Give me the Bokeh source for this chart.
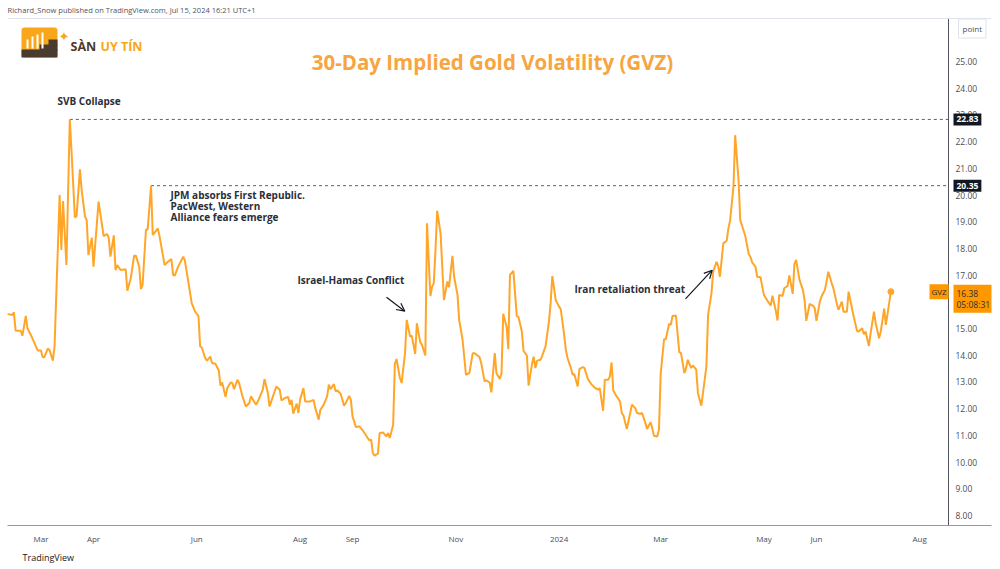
import pandas as pd
from bokeh.plotting import figure
from bokeh.models import (Range1d, FixedTicker, Label, Arrow, OpenHead, BoxAnnotation,
                          ColumnDataSource, Span, Title)
from bokeh.embed import file_html
from bokeh.resources import INLINE

# ---------------- data ----------------
dates = [
    "2023-02-09", "2023-02-12", "2023-02-13", "2023-02-14", "2023-02-17", "2023-02-18", "2023-02-20",
    "2023-02-21", "2023-02-23", "2023-02-26", "2023-02-27", "2023-03-01", "2023-03-02", "2023-03-03",
    "2023-03-05", "2023-03-06", "2023-03-08", "2023-03-09", "2023-03-12", "2023-03-13", "2023-03-14",
    "2023-03-16", "2023-03-18", "2023-03-19", "2023-03-21", "2023-03-22", "2023-03-24", "2023-03-25",
    "2023-03-27", "2023-03-28", "2023-03-29", "2023-03-31", "2023-04-01", "2023-04-04", "2023-04-07",
    "2023-04-09", "2023-04-10", "2023-04-11", "2023-04-13", "2023-04-14", "2023-04-15", "2023-04-17",
    "2023-04-20", "2023-04-21", "2023-04-23", "2023-04-25", "2023-04-26", "2023-04-28", "2023-04-29",
    "2023-04-30", "2023-05-02", "2023-05-03", "2023-05-05", "2023-05-06", "2023-05-09", "2023-05-10",
    "2023-05-13", "2023-05-15", "2023-05-17", "2023-05-18", "2023-05-19", "2023-05-21", "2023-05-24",
    "2023-05-25", "2023-05-27", "2023-05-29", "2023-05-31", "2023-06-02", "2023-06-03", "2023-06-04",
    "2023-06-06", "2023-06-07", "2023-06-09", "2023-06-10", "2023-06-12", "2023-06-14", "2023-06-15",
    "2023-06-16", "2023-06-18", "2023-06-19", "2023-06-21", "2023-06-22", "2023-06-23", "2023-06-25",
    "2023-06-26", "2023-06-28", "2023-06-30", "2023-07-02", "2023-07-03", "2023-07-06", "2023-07-08",
    "2023-07-10", "2023-07-11", "2023-07-13", "2023-07-14", "2023-07-16", "2023-07-18", "2023-07-20",
    "2023-07-21", "2023-07-23", "2023-07-25", "2023-07-26", "2023-07-27", "2023-07-28", "2023-07-30",
    "2023-07-31", "2023-08-01", "2023-08-03", "2023-08-04", "2023-08-07", "2023-08-09", "2023-08-10",
    "2023-08-12", "2023-08-13", "2023-08-15", "2023-08-17", "2023-08-18", "2023-08-19", "2023-08-21",
    "2023-08-22", "2023-08-23", "2023-08-25", "2023-08-27", "2023-08-28", "2023-08-30", "2023-08-31",
    "2023-09-01", "2023-09-03", "2023-09-05", "2023-09-07", "2023-09-10", "2023-09-11", "2023-09-12",
    "2023-09-13", "2023-09-14", "2023-09-16", "2023-09-17", "2023-09-19", "2023-09-21", "2023-09-22",
    "2023-09-23", "2023-09-25", "2023-09-26", "2023-09-27", "2023-09-29", "2023-09-30", "2023-10-02",
    "2023-10-03", "2023-10-05", "2023-10-06", "2023-10-08", "2023-10-09", "2023-10-11", "2023-10-12",
    "2023-10-14", "2023-10-15", "2023-10-17", "2023-10-18", "2023-10-19", "2023-10-20", "2023-10-21",
    "2023-10-23", "2023-10-25", "2023-10-27", "2023-10-28", "2023-10-30", "2023-10-31", "2023-11-02",
    "2023-11-03", "2023-11-05", "2023-11-07", "2023-11-09", "2023-11-11", "2023-11-12", "2023-11-14",
    "2023-11-15", "2023-11-16", "2023-11-18", "2023-11-19", "2023-11-21", "2023-11-22", "2023-11-24",
    "2023-11-25", "2023-11-27", "2023-11-28", "2023-11-29", "2023-12-01", "2023-12-02", "2023-12-03",
    "2023-12-05", "2023-12-07", "2023-12-08", "2023-12-10", "2023-12-11", "2023-12-13", "2023-12-14",
    "2023-12-16", "2023-12-17", "2023-12-18", "2023-12-19", "2023-12-21", "2023-12-22", "2023-12-24",
    "2023-12-26", "2023-12-27", "2023-12-28", "2023-12-30", "2024-01-01", "2024-01-02", "2024-01-04",
    "2024-01-05", "2024-01-06", "2024-01-08", "2024-01-09", "2024-01-10", "2024-01-12", "2024-01-13",
    "2024-01-15", "2024-01-16", "2024-01-18", "2024-01-20", "2024-01-22", "2024-01-24", "2024-01-25",
    "2024-01-27", "2024-01-28", "2024-01-30", "2024-01-31", "2024-02-01", "2024-02-02", "2024-02-04",
    "2024-02-06", "2024-02-07", "2024-02-08", "2024-02-10", "2024-02-12", "2024-02-13", "2024-02-15",
    "2024-02-16", "2024-02-18", "2024-02-19", "2024-02-21", "2024-02-22", "2024-02-24", "2024-02-25",
    "2024-02-26", "2024-02-28", "2024-02-29", "2024-03-01", "2024-03-03", "2024-03-04", "2024-03-06",
    "2024-03-07", "2024-03-08", "2024-03-10", "2024-03-12", "2024-03-13", "2024-03-15", "2024-03-16",
    "2024-03-17", "2024-03-19", "2024-03-20", "2024-03-22", "2024-03-23", "2024-03-25", "2024-03-26",
    "2024-03-28", "2024-03-29", "2024-03-31", "2024-04-01", "2024-04-03", "2024-04-04", "2024-04-05",
    "2024-04-07", "2024-04-09", "2024-04-10", "2024-04-11", "2024-04-13", "2024-04-14", "2024-04-16",
    "2024-04-17", "2024-04-19", "2024-04-20", "2024-04-22", "2024-04-23", "2024-04-24", "2024-04-26",
    "2024-04-27", "2024-04-29", "2024-04-30", "2024-05-01", "2024-05-03", "2024-05-05", "2024-05-06",
    "2024-05-08", "2024-05-09", "2024-05-10", "2024-05-12", "2024-05-13", "2024-05-15", "2024-05-16",
    "2024-05-18", "2024-05-19", "2024-05-20", "2024-05-22", "2024-05-24", "2024-05-25", "2024-05-26",
    "2024-05-28", "2024-05-30", "2024-05-31", "2024-06-01", "2024-06-03", "2024-06-04", "2024-06-06",
    "2024-06-07", "2024-06-08", "2024-06-10", "2024-06-11", "2024-06-13", "2024-06-14", "2024-06-16",
    "2024-06-17", "2024-06-19", "2024-06-20", "2024-06-22", "2024-06-23", "2024-06-25", "2024-06-26",
    "2024-06-28", "2024-06-29", "2024-06-30", "2024-07-02", "2024-07-03", "2024-07-05", "2024-07-06",
    "2024-07-08", "2024-07-09", "2024-07-11", "2024-07-12", "2024-07-15",
]
gvz = [
    15.55, 15.51, 15.61, 14.92, 14.92, 14.73, 15.47,
    15.01, 14.76, 14.33, 14.18, 14.18, 13.93, 13.93,
    14.25, 14.20, 13.80, 14.33, 20.00, 17.94, 19.77,
    17.38, 22.83, 21.68, 19.16, 19.21, 20.96, 20.18,
    19.19, 19.06, 17.75, 18.40, 17.32, 19.75, 18.46,
    18.54, 18.40, 17.69, 18.49, 17.19, 17.38, 17.19,
    17.22, 16.42, 16.88, 17.73, 17.73, 17.32, 16.48,
    16.63, 18.71, 18.71, 20.35, 18.50, 18.75, 18.46,
    17.38, 17.50, 17.60, 17.01, 16.98, 17.32, 17.69,
    17.54, 16.76, 15.95, 15.63, 15.47, 14.33, 14.29,
    13.89, 13.80, 13.95, 13.71, 13.68, 13.43, 12.86,
    12.98, 12.44, 12.77, 12.98, 12.96, 12.73, 13.08,
    12.96, 12.46, 12.08, 12.21, 12.46, 12.15, 12.40,
    12.71, 13.11, 12.59, 12.08, 12.46, 12.83, 12.71,
    12.31, 12.40, 12.44, 12.15, 12.33, 11.81, 12.19,
    11.84, 12.33, 12.77, 12.27, 12.27, 12.33, 12.02,
    11.59, 11.96, 12.15, 12.46, 12.90, 12.73, 12.92,
    12.65, 12.68, 12.56, 12.11, 12.21, 12.48, 12.33,
    11.71, 11.31, 11.34, 11.19, 10.90, 10.81, 10.84,
    10.34, 10.24, 10.32, 11.09, 11.11, 10.96, 11.09,
    10.90, 11.40, 13.68, 13.86, 13.15, 12.96, 14.08,
    15.32, 14.70, 14.73, 14.05, 15.20, 14.48, 14.39,
    13.99, 18.94, 16.22, 16.57, 16.70, 17.94, 19.41,
    18.56, 16.07, 16.76, 16.55, 17.72, 16.94, 16.26,
    15.32, 14.58, 13.27, 13.33, 14.08, 14.08, 13.98,
    13.93, 13.71, 13.02, 13.06, 12.98, 12.61, 14.08,
    13.33, 13.11, 13.33, 15.55, 15.07, 14.23, 17.01,
    17.16, 15.47, 15.43, 14.89, 14.17, 13.98, 12.86,
    13.67, 13.95, 13.52, 13.80, 13.83, 13.98, 14.33,
    15.26, 15.95, 16.97, 16.07, 15.82, 15.72, 14.76,
    14.20, 13.89, 13.52, 13.27, 13.30, 12.83, 13.48,
    13.56, 13.52, 13.11, 12.92, 12.79, 12.71, 12.77,
    11.92, 13.08, 13.08, 13.21, 13.73, 12.68, 12.46,
    12.27, 11.84, 11.75, 11.24, 11.84, 12.15, 12.02,
    11.84, 11.81, 11.84, 11.46, 11.24, 11.49, 11.28,
    10.99, 10.96, 11.21, 13.30, 14.60, 14.60, 15.18,
    15.14, 15.47, 15.49, 14.12, 14.08, 13.33, 13.52,
    13.83, 13.52, 13.62, 13.46, 12.59, 12.11, 12.59,
    13.58, 15.51, 16.32, 17.13, 17.50, 17.34, 16.94,
    18.19, 18.29, 18.75, 19.04, 20.31, 22.24, 20.56,
    19.06, 18.66, 18.46, 17.79, 17.69, 17.48, 17.32,
    16.94, 16.92, 16.57, 16.26, 16.05, 15.86, 16.23,
    15.67, 15.30, 16.26, 16.22, 16.51, 16.60, 16.99,
    16.30, 17.42, 17.57, 16.82, 16.45, 16.07, 15.29,
    15.92, 15.85, 15.76, 15.29, 16.01, 16.20, 16.45,
    16.76, 17.13, 16.70, 16.51, 15.95, 15.70, 16.01,
    15.63, 15.63, 16.38, 15.76, 15.45, 14.91, 14.89,
    15.01, 14.79, 14.89, 14.35, 14.83, 15.63, 15.20,
    14.64, 14.89, 15.75, 15.14, 16.38,
]

tick_dates = ["2023-03-01", "2023-04-01", "2023-06-01", "2023-08-01", "2023-09-01", "2023-11-01",
              "2024-01-01", "2024-03-01", "2024-05-01", "2024-06-01", "2024-08-01"]
tick_labels = ["Mar", "Apr", "Jun", "Aug", "Sep", "Nov", "2024", "Mar", "May", "Jun", "Aug"]
price_ticks = list(range(8, 26))

level_dates = ["2023-03-18", "2023-05-05"]   # SVB peak, JPM / First Republic peak

# ---------------- figure ----------------
LINE = "#FFA629"
FONT = "Open Sans"
x_date = pd.to_datetime(dates)
src = ColumnDataSource(dict(date=x_date, gvz=gvz))

anchor = pd.Timestamp("2023-03-01")
x_start = anchor - pd.Timedelta(days=19.79)
x_end = anchor + pd.Timedelta(days=561.4)
scale_edge = anchor + pd.Timedelta(days=536.0)   # where the price scale begins
y_lo, y_hi = 7.626, 27.283
pane_top = 26.61                                   # top border of the chart pane

p = figure(width=1000, height=566, x_axis_type="datetime", y_axis_location=None,
           x_range=Range1d(x_start, x_end), y_range=Range1d(y_lo, y_hi),
           output_backend="svg", toolbar_location=None,
           min_border_left=7, min_border_right=9, min_border_top=0, min_border_bottom=40)
p.background_fill_color = "white"
p.border_fill_color = "white"
p.outline_line_color = None
p.grid.visible = False

xa = p.xaxis[0]
tick_ms = [int(pd.Timestamp(d).value // 10**6) for d in tick_dates]
xa.ticker = FixedTicker(ticks=tick_ms)
xa.major_label_overrides = {t: l for t, l in zip(tick_ms, tick_labels)}
xa.major_tick_line_color = None
xa.minor_tick_line_color = None
xa.axis_line_color = "#9598a1"
xa.major_label_text_font = FONT
xa.major_label_text_font_size = "8px"
xa.major_label_text_color = "#4a4d57"
xa.major_label_standoff = 1

p.add_layout(Title(text="TradingView", align="left", offset=15, text_font=FONT,
                   text_font_size="9px", text_font_style="normal", text_color="#131722",
                   standoff=5), "below")

# pane border and price-scale line
p.add_layout(Span(location=pane_top, dimension="width", line_color="#e0e3eb", line_width=1))
p.segment(x0=[scale_edge], y0=[pane_top], x1=[scale_edge], y1=[y_lo],
          line_color="#50535e", line_width=1)

# price scale labels
for t in price_ticks:
    p.add_layout(Label(x=948, x_units="screen", y=t, y_units="data", text=f"{t:.2f}",
                       text_font=FONT, text_font_size="8.5px", text_color="#4a4d57",
                       text_baseline="middle"))

# dashed level lines from the two annotated peaks
for d in level_dates:
    lv = gvz[dates.index(d)]
    p.segment(x0=[pd.Timestamp(d)], y0=[lv], x1=[scale_edge], y1=[lv],
              line_color="#5d606b", line_width=1, line_dash="3 3")
    p.add_layout(Label(x=946, x_units="screen", y=lv, y_units="data", text=f"{lv:.2f}",
                       text_font=FONT, text_font_size="8.5px", text_font_style="bold",
                       text_color="white", text_baseline="middle",
                       background_fill_color="#131722", padding=3))

p.line("date", "gvz", source=src, line_color=LINE, line_width=2)
p.scatter(x=[x_date[-1]], y=[gvz[-1]], size=6, color=LINE)

# last value tags
p.add_layout(Label(x=922, x_units="screen", y=gvz[-1], y_units="data", text="GVZ",
                   text_font=FONT, text_font_size="8px", text_color="#2a2e39",
                   text_baseline="middle", background_fill_color="#FF9800", padding=2))
p.add_layout(Label(x=946, x_units="screen", y=gvz[-1], y_units="data", y_offset=7,
                   text=f"{gvz[-1]:.2f}\n05:08:31", text_line_height=1.0,
                   text_font=FONT, text_font_size="8.5px", text_color="#2a2e39",
                   text_baseline="top", background_fill_color="#FF9800", padding=3))
p.add_layout(Label(x=951, x_units="screen", y=497, y_units="screen", text="point",
                   text_font=FONT, text_font_size="8px", text_color="#4a4d57",
                   text_baseline="middle", background_fill_color="white",
                   border_line_color="#e0e3eb", padding=4))

# title and texts
p.add_layout(Label(x=485, y=464, x_units="screen", y_units="screen",
                   text="30-Day Implied Gold Volatility (GVZ)", text_align="center",
                   text_baseline="middle", text_font=FONT, text_font_size="20.5px",
                   text_font_style="bold", text_color="#F7A541"))
p.add_layout(Label(x=0, y=516, x_units="screen", y_units="screen",
                   text="Richard_Snow published on TradingView.com, Jul 15, 2024 16:21 UTC+1",
                   text_baseline="middle", text_font=FONT, text_font_size="7.5px",
                   text_color="#50535e"))

ANN = dict(x_units="screen", y_units="screen", text_baseline="middle",
           text_font=FONT, text_font_size="10px", text_font_style="bold", text_color="#2a2e39")
p.add_layout(Label(x=50, y=425, text="SVB Collapse", **ANN))
p.add_layout(Label(x=163, y=331, text="JPM absorbs First Republic.", **ANN))
p.add_layout(Label(x=163, y=320, text="PacWest, Western", **ANN))
p.add_layout(Label(x=163, y=309, text="Alliance fears emerge", **ANN))
p.add_layout(Label(x=290, y=246, text="Israel-Hamas Conflict", **ANN))
p.add_layout(Label(x=567, y=237, text="Iran retaliation threat", **ANN))

for xs, ys, xe, ye in [(379, 228.3, 397.3, 214.3), (678, 226.7, 704.7, 255.3)]:
    p.add_layout(Arrow(x_start=xs, y_start=ys, x_end=xe, y_end=ye,
                       start_units="screen", end_units="screen",
                       line_color="#131722", line_width=1.2,
                       end=OpenHead(size=8, line_color="#131722", line_width=1.2)))

# logo
BOX = dict(left_units="screen", right_units="screen", top_units="screen", bottom_units="screen",
           line_color=None, fill_alpha=1)
p.add_layout(BoxAnnotation(left=14, right=50, top=498, bottom=468, fill_color="#F9A61A",
                           border_radius=3, **BOX))
p.add_layout(BoxAnnotation(left=14, right=50, top=476, bottom=468, fill_color="#4B3A2E", **BOX))
p.add_layout(BoxAnnotation(left=32, right=50, top=481, bottom=475, fill_color="#4B3A2E", **BOX))
p.add_layout(BoxAnnotation(left=41, right=50, top=486, bottom=480, fill_color="#4B3A2E", **BOX))
for l, t in [(19, 486), (24, 489), (29, 491), (34, 493)]:
    p.add_layout(BoxAnnotation(left=l, right=l + 2, top=t, bottom=477, fill_color="white", **BOX))
p.add_layout(Label(x=51, y=489, x_units="screen", y_units="screen", text="✦",
                   text_baseline="middle", text_font="DejaVu Sans", text_font_size="13px",
                   text_color="#F9A61A"))
p.add_layout(Label(x=63, y=479, x_units="screen", y_units="screen", text="SÀN",
                   text_baseline="middle", text_font=FONT, text_font_size="12.5px",
                   text_font_style="bold", text_color="#4B3A2E"))
p.add_layout(Label(x=93, y=479, x_units="screen", y_units="screen", text="UY TÍN",
                   text_baseline="middle", text_font=FONT, text_font_size="12.5px",
                   text_font_style="bold", text_color="#F9A61A"))

open("out.html", "w").write(file_html(p, INLINE))
